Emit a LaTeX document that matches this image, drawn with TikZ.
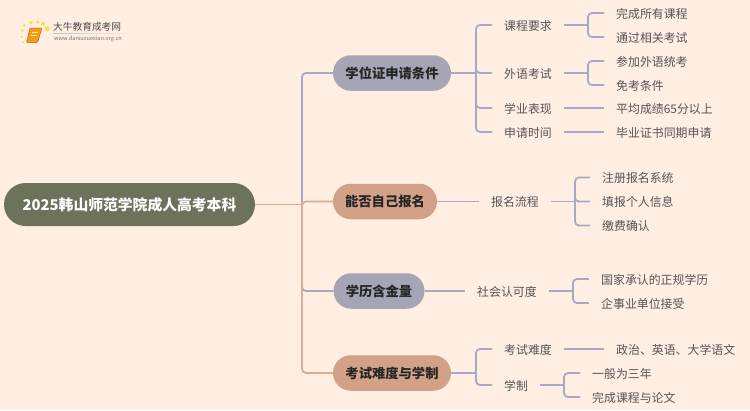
\documentclass[tikz,border=0pt]{standalone}
\usepackage{xcolor}
\usepackage{fontspec}
\setmainfont{Noto Sans CJK SC}
\usetikzlibrary{shapes.misc}
\definecolor{paper}{HTML}{FFEEE1}
\definecolor{rootgreen}{HTML}{6B735B}
\definecolor{greypill}{HTML}{A5A5B5}
\definecolor{tanpill}{HTML}{D2A188}
\definecolor{greylink}{HTML}{A6AAC6}
\definecolor{tanlink}{HTML}{DCAC94}
\definecolor{inkgrey}{HTML}{555555}
\definecolor{bookorange}{HTML}{F39A1E}

\begin{document}
\begin{tikzpicture}
  [x=1pt,y=-1pt,
   pill/.style={rounded rectangle,inner sep=0pt,minimum height=35.5pt,font=\fontsize{13.3}{15}\selectfont\bfseries,text=black!85},
   leaf/.style={anchor=west,inner xsep=12pt,inner ysep=2pt,text height=11.2pt,text depth=1.2pt,font=\fontsize{11.9}{14}\selectfont,text=inkgrey},
   greyline/.style={draw=greylink,line width=1.8pt,rounded corners=4pt},
   tanline/.style={draw=tanlink,line width=1.8pt,rounded corners=4pt}]
  \useasboundingbox (0,0) rectangle (750,410);
  \fill[paper] (0,0) rectangle (750,410);

  % logo
  \foreach \px/\py/\pr in {24.3/25.3/1.6,31/22.7/1.9,37.7/22/1.9,43/23.7/2,47.3/28.7/2.3,22.3/30.7/1.3,21.7/36.7/1.1,23.3/42.3/.9}
    \fill[yellow!75!orange!75] (\px,\py) circle (\pr);
  \fill[bookorange,draw=orange!80!black,line width=.5pt,rounded corners=1pt] (30,28) -- (42,28) -- (37.5,42.5) -- (26.5,42.5) -- cycle;
  \draw[yellow!50!white,line width=.7pt] (31.5,32) -- (38,32) (30.5,35) -- (37,35);
  \node[inner sep=0pt,anchor=west,font=\fontsize{9.7}{11}\selectfont,text=black!70] (logotext) at (53,27) {大牛教育成考网};
  \node[inner sep=0pt,anchor=west,font=\fontsize{5.6}{7}\selectfont,text=black!55] (logourl) at (54,39) {www.daniuxuexiao.org.cn};
  \fill[left color=black!25,right color=paper] (53,33) rectangle (133,33.8);

  % main nodes
  \node[rounded rectangle,inner sep=0pt,minimum width=251pt,minimum height=43pt,fill=rootgreen,text=white,font=\fontsize{14.8}{17}\selectfont\bfseries] (root) at (129.5,204.5) {2025韩山师范学院成人高考本科};
  \node[pill,fill=greypill,minimum width=118pt] (degree) at (392,73) {学位证申请条件};
  \node[pill,fill=tanpill,minimum width=104pt] (self) at (385,201.5) {能否自己报名};
  \node[pill,fill=greypill,minimum width=91pt] (value) at (379,291) {学历含金量};
  \node[pill,fill=tanpill,minimum width=118pt] (exam) at (392,373) {考试难度与学制};

  % second level
  \node[leaf] (course) at (492,25) {课程要求};
  \node[leaf] (lang) at (492,73) {外语考试};
  \node[leaf] (perf) at (492,108) {学业表现};
  \node[leaf] (when) at (492,132) {申请时间};
  \node[leaf] (flow) at (479,201.5) {报名流程};
  \node[leaf] (social) at (465,291) {社会认可度};
  \node[leaf] (hard) at (492,349) {考试难度};
  \node[leaf] (years) at (492,385) {学制};

  % leaves
  \node[leaf] (c1) at (604,13) {完成所有课程};
  \node[leaf] (c2) at (604,37) {通过相关考试};
  \node[leaf] (l1) at (604,61) {参加外语统考};
  \node[leaf] (l2) at (604,85) {免考条件};
  \node[leaf] (p1) at (604,108) {平均成绩65分以上};
  \node[leaf] (w1) at (604,132) {毕业证书同期申请};
  \node[leaf] (f1) at (590,177.5) {注册报名系统};
  \node[leaf] (f2) at (590,201.5) {填报个人信息};
  \node[leaf] (f3) at (590,225.5) {缴费确认};
  \node[leaf] (s1) at (589,279) {国家承认的正规学历};
  \node[leaf] (s2) at (589,303) {企事业单位接受};
  \node[leaf] (h1) at (604,349) {政治、英语、大学语文};
  \node[leaf] (y1) at (580,373) {一般为三年};
  \node[leaf] (y2) at (580,397) {完成课程与论文};

  \coordinate (jroot) at (302,204.5);
  \coordinate (jdegree) at (476,73);
  \coordinate (jexam) at (476,373);
  \coordinate (jcourse) at (588,25);
  \coordinate (jlang) at (588,73);
  \coordinate (jflow) at (575,201.5);
  \coordinate (jsocial) at (573,291);
  \coordinate (jyears) at (564,385);

  % connectors
  \draw[greyline] (jroot) |- (degree.west);
  \draw[greyline] (jroot) |- (value.west);
  \draw[tanline] (jroot) |- (self.west);
  \draw[tanline] (jroot) |- (exam.west);
  \draw[tanline] (root.east) -- (jroot);

  \draw[greyline] (degree.east) -- (jdegree);
  \foreach \to in {course,lang,perf,when}
    \draw[greyline] (jdegree) |- (\to.west);
  \draw[greyline] (exam.east) -- (jexam);
  \foreach \to in {hard,years}
    \draw[greyline] (jexam) |- (\to.west);
  \draw[greyline] (self.east) -- (flow.west);
  \draw[greyline] (value.east) -- (social.west);

  \foreach \from/\junc in {course/jcourse,lang/jlang,flow/jflow,social/jsocial,years/jyears}
    \draw[greyline] (\from.east) -- (\junc);
  \foreach \junc/\to in {jcourse/c1,jcourse/c2,jlang/l1,jlang/l2,jflow/f1,jflow/f2,jflow/f3,jsocial/s1,jsocial/s2,jyears/y1,jyears/y2}
    \draw[greyline] (\junc) |- (\to.west);
  \foreach \from/\to in {perf/p1,when/w1,hard/h1}
    \draw[greyline] (\from.east) -- (\to.west);

\end{tikzpicture}
\end{document}
